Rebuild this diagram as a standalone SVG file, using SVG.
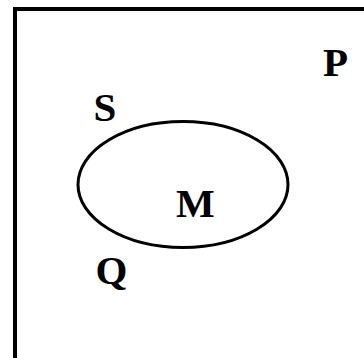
<svg xmlns="http://www.w3.org/2000/svg" width="364" height="358" viewBox="0 0 364 358">
<style>
.lbl{font-family:"Liberation Serif","Times New Roman",serif;font-weight:bold;font-size:41px;fill:#000}
.ln{fill:none;stroke:#000}
</style>
<rect width="364" height="358" fill="#fff"/>
<g id="P">
<rect class="ln" x="15" y="9" width="420" height="420" stroke-width="4"/>
<text class="lbl" x="323" y="76">P</text>
</g>
<g id="S">
<text class="lbl" x="93.5" y="121">S</text>
</g>
<g id="M">
<ellipse class="ln" cx="183" cy="184.5" rx="105" ry="63" stroke-width="3"/>
<text class="lbl" x="176" y="217">M</text>
</g>
<g id="Q">
<text class="lbl" x="95.5" y="284">Q</text>
</g>
<g id="connectors"></g>
</svg>
